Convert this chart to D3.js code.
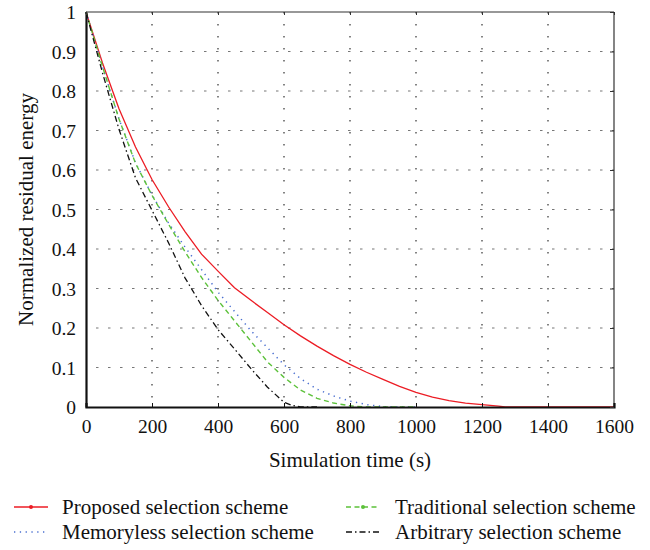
<!DOCTYPE html>
<html>
<head>
<meta charset="utf-8">
<script src="https://cdn.jsdelivr.net/npm/d3@7"></script>
<style>
body { margin: 0; background: #fff; }
svg text { font-family: "Liberation Serif", "DejaVu Serif", serif; fill: #111; }
</style>
</head>
<body>
<svg id="chart" width="650" height="550"></svg>
<script>
const xTicks = [0, 200, 400, 600, 800, 1000, 1200, 1400, 1600];
const yTicks = [0, 0.1, 0.2, 0.3, 0.4, 0.5, 0.6, 0.7, 0.8, 0.9, 1];
const yTickLabels = ["0", "0.1", "0.2", "0.3", "0.4", "0.5", "0.6", "0.7", "0.8", "0.9", "1"];

const proposedT = [0, 50, 100, 150, 200, 250, 300, 350, 400, 450, 500, 550, 600, 650, 700, 750, 800, 850, 900, 950, 1000, 1050, 1100, 1150, 1200, 1250, 1270, 1600];
const proposedV = [1, 0.871, 0.755, 0.658, 0.576, 0.507, 0.444, 0.387, 0.344, 0.302, 0.27, 0.239, 0.208, 0.18, 0.154, 0.13, 0.108, 0.088, 0.07, 0.052, 0.037, 0.025, 0.016, 0.01, 0.006, 0.002, 0, 0];

const memorylessT = [0, 50, 100, 150, 200, 250, 300, 350, 400, 450, 500, 550, 600, 650, 700, 750, 800, 850, 900, 950, 1000];
const memorylessV = [1, 0.862, 0.729, 0.618, 0.537, 0.466, 0.405, 0.348, 0.291, 0.242, 0.193, 0.15, 0.107, 0.072, 0.045, 0.028, 0.015, 0.006, 0.001, 0, 0];

const traditionalT = [0, 50, 100, 150, 200, 250, 300, 350, 400, 450, 500, 550, 600, 650, 700, 750, 800, 850, 1000];
const traditionalV = [1, 0.862, 0.729, 0.617, 0.536, 0.463, 0.393, 0.328, 0.27, 0.218, 0.166, 0.114, 0.075, 0.043, 0.022, 0.01, 0.003, 0, 0];

const arbitraryT = [0, 50, 100, 150, 200, 250, 300, 350, 400, 450, 500, 550, 600, 625, 650, 700];
const arbitraryV = [1, 0.846, 0.703, 0.58, 0.498, 0.416, 0.327, 0.257, 0.196, 0.147, 0.097, 0.05, 0.012, 0.004, 0, 0];

const seriesNames = ["Proposed selection scheme", "Memoryless selection scheme", "Traditional selection scheme", "Arbitrary selection scheme"];

const svg = d3.select("#chart");
const mLeft = 86, mRight = 614, mTop = 12, mBottom = 407;
const x = d3.scaleLinear().domain([0, 1600]).range([mLeft, mRight]);
const y = d3.scaleLinear().domain([0, 1]).range([mBottom, mTop]);

// grid
const grid = svg.append("g");
grid.selectAll(".vg").data(xTicks.slice(1, -1)).enter().append("line")
  .attr("x1", d => x(d)).attr("x2", d => x(d)).attr("y1", mTop).attr("y2", mBottom)
  .attr("stroke", "#333").attr("stroke-width", 1.2).attr("stroke-dasharray", "1.5,10.5");
grid.selectAll(".hg").data(yTicks.slice(1, -1)).enter().append("line")
  .attr("x1", mLeft).attr("x2", mRight).attr("y1", d => y(d)).attr("y2", d => y(d))
  .attr("stroke", "#777").attr("stroke-width", 1.2).attr("stroke-dasharray", "2.5,9.5")
  .attr("stroke-dashoffset", -10);

// curves
const line = d3.line().x(d => x(d[0])).y(d => y(d[1]));
const zip = (a, b) => a.map((t, i) => [t, b[i]]);
const styles = [
  {t: proposedT, v: proposedV, color: "#ec1c24", dash: null, w: 1.3},
  {t: memorylessT, v: memorylessV, color: "#4a6fd0", dash: "1.3,4.5", w: 1.5},
  {t: traditionalT, v: traditionalV, color: "#5cc13a", dash: "5,3.5", w: 1.4},
  {t: arbitraryT, v: arbitraryV, color: "#111", dash: "6,3,1.5,3", w: 1.3}
];
styles.forEach(s => {
  svg.append("path").datum(zip(s.t, s.v)).attr("d", line)
    .attr("fill", "none").attr("stroke", s.color).attr("stroke-width", s.w)
    .attr("stroke-dasharray", s.dash);
});

// frame
svg.append("line").attr("x1", mLeft).attr("x2", mRight).attr("y1", mTop).attr("y2", mTop).attr("stroke", "#333").attr("stroke-width", 1.2);
svg.append("line").attr("x1", mRight).attr("x2", mRight).attr("y1", mTop).attr("y2", mBottom).attr("stroke", "#333").attr("stroke-width", 1.2);

// axes
const xAxis = svg.append("g").attr("transform", `translate(0,${mBottom})`)
  .call(d3.axisBottom(x).tickValues(xTicks).tickSize(-4).tickPadding(12).tickFormat(d3.format("d")));
const yAxis = svg.append("g").attr("transform", `translate(${mLeft},0)`)
  .call(d3.axisLeft(y).tickValues(yTicks).tickSize(0).tickPadding(10).tickFormat((d, i) => yTickLabels[i]));
svg.append("g").attr("transform", `translate(${mRight},0)`)
  .call(d3.axisRight(y).tickValues(yTicks).tickSize(-4).tickFormat(""))
  .call(g => g.select(".domain").remove())
  .selectAll("line").attr("stroke", "#333");
svg.append("g").attr("transform", `translate(0,${mTop})`)
  .call(d3.axisTop(x).tickValues(xTicks).tickSize(-3).tickFormat(""))
  .call(g => g.select(".domain").remove())
  .selectAll("line").attr("stroke", "#333");
[xAxis, yAxis].forEach(g => {
  g.select(".domain").attr("stroke", "#111").attr("stroke-width", 2.2);
  g.selectAll("text").style("font-size", "19.5px").attr("fill", "#111");
  g.selectAll(".tick line").attr("stroke", "#111");
});
yAxis.selectAll("text").attr("dy", "0.34em");

// axis titles
svg.append("text").attr("x", (mLeft + mRight) / 2).attr("y", 467).attr("text-anchor", "middle")
  .style("font-size", "21px").text("Simulation time (s)");
svg.append("text").attr("transform", `translate(33,${(mTop + mBottom) / 2}) rotate(-90)`)
  .attr("text-anchor", "middle").style("font-size", "21px").text("Normalized residual energy");

// legend
const legendPos = [[14, 507], [14, 532], [346, 507], [346, 532]];
styles.forEach((s, i) => {
  const [lx, ly] = legendPos[i];
  svg.append("line").attr("x1", lx).attr("x2", lx + 34).attr("y1", ly).attr("y2", ly)
    .attr("stroke", s.color).attr("stroke-width", s.w).attr("stroke-dasharray", s.dash);
  if (i === 0 || i === 2) {
    svg.append("circle").attr("cx", lx + 17).attr("cy", ly).attr("r", 2).attr("fill", s.color);
  }
  svg.append("text").attr("x", lx + (i < 2 ? 48 : 49)).attr("y", ly + 7)
    .style("font-size", "21px").text(seriesNames[i]);
});
</script>
</body>
</html>
